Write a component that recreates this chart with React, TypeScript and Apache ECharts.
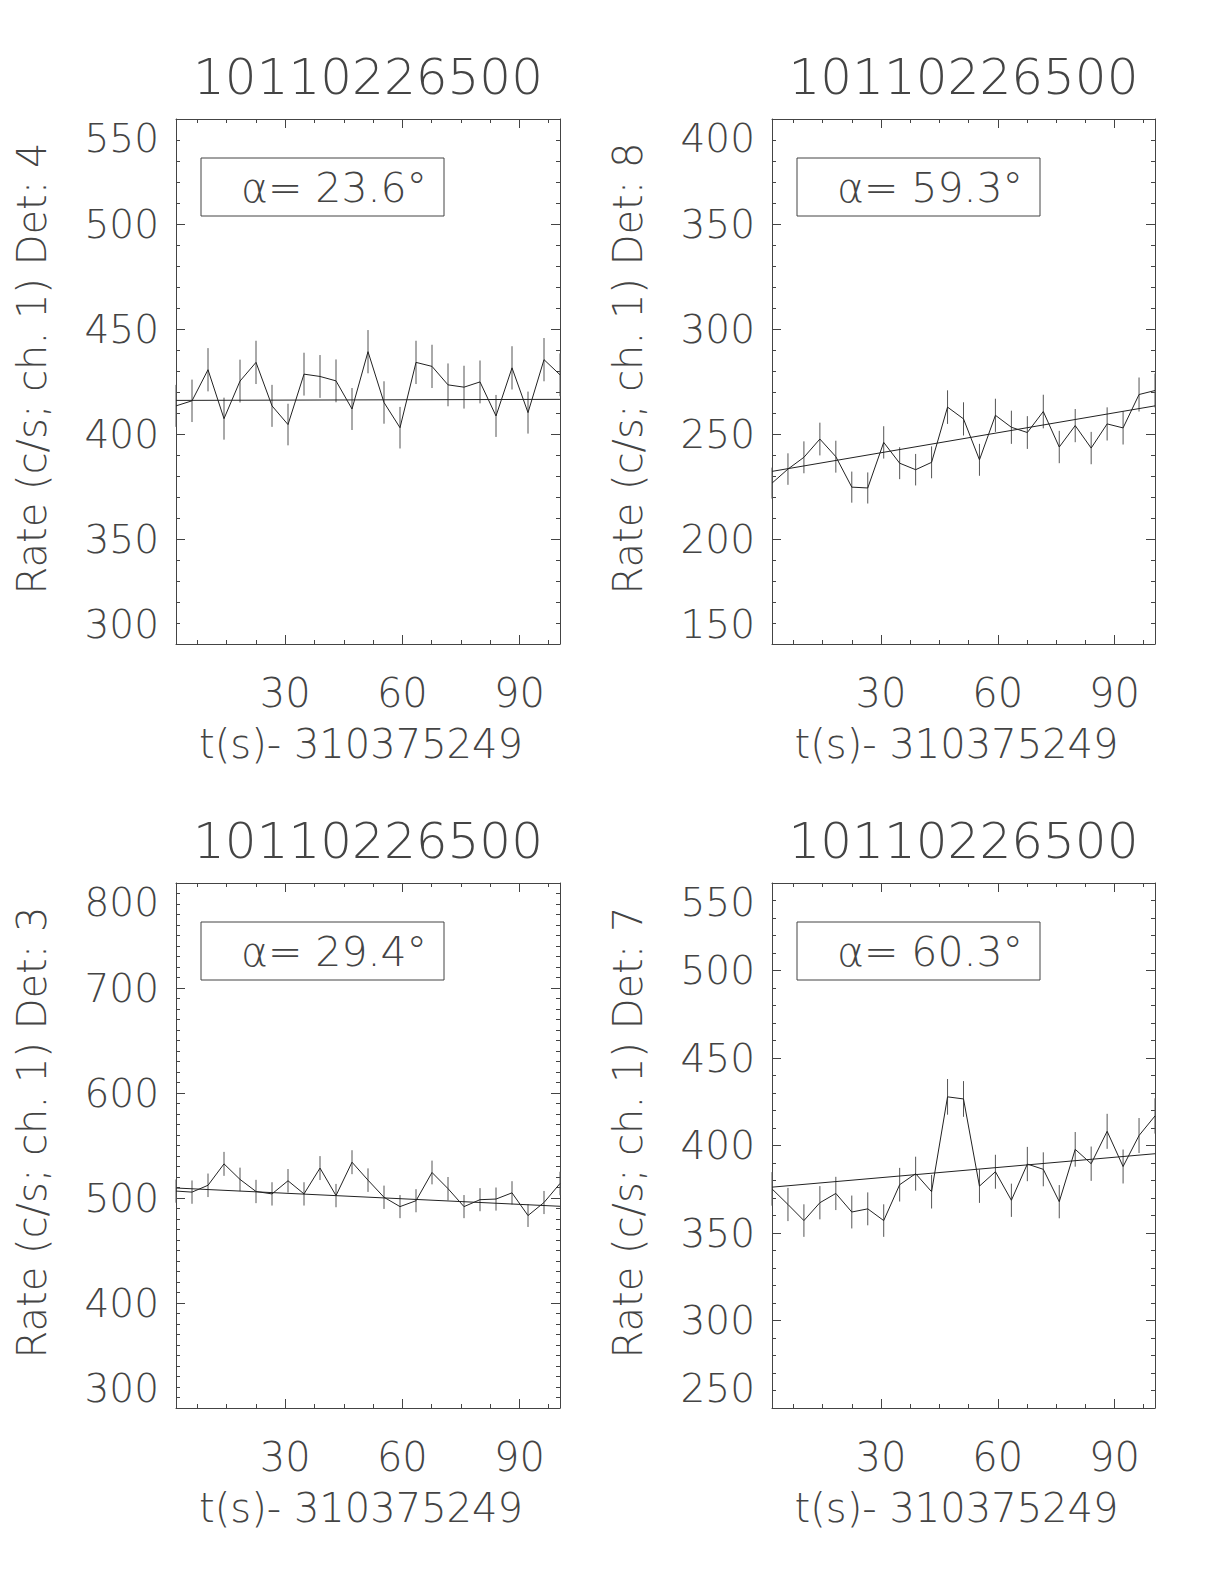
import React, { useEffect, useRef } from 'react';
import * as echarts from 'echarts';

const TITLE = '10110226500';
const X_NAME = 't(s)- 310375249';
const TIMES = [2.0, 6.1, 10.2, 14.3, 18.4, 22.5, 26.6, 30.7, 34.8, 38.9, 43.0, 47.1, 51.2, 55.3, 59.4, 63.5, 67.6, 71.7, 75.8, 79.9, 84.0, 88.1, 92.2, 96.3, 100.4];
const X_MIN = 2.0;
const X_MAX = 100.4;
const X_MAJOR = [30, 60, 90];
const X_MINOR = [7.5, 15, 22.5, 37.5, 45, 52.5, 67.5, 75, 82.5, 97.5];

const DETS = ['4', '8', '3', '7'];
const ANGLES = ['23.6', '59.3', '29.4', '60.3'];
const Y_MIN = [300, 150, 300, 250];
const Y_MAX = [550, 400, 800, 550];
const Y_STEP = [50, 50, 100, 50];
const Y_MINOR_SPLIT = [5, 5, 10, 5];

const RATE_DET4 = [413.4, 415.8, 430.6, 407.3, 425.2, 434.1, 413.4, 404.5, 428.5, 427.4, 425.3, 411.9, 439.2, 415.0, 403.0, 434.1, 432.2, 423.4, 422.3, 424.8, 408.6, 431.5, 410.2, 435.4, 428.2];
const ERR_DET4 = [10.0, 10.1, 10.3, 10.0, 10.2, 10.3, 10.0, 9.9, 10.2, 10.2, 10.2, 10.0, 10.3, 10.1, 9.9, 10.3, 10.3, 10.2, 10.2, 10.2, 10.0, 10.3, 10.0, 10.3, 10.2];
const FIT_DET4 = [416.0, 416.5];

const RATE_DET8 = [226.6, 233.3, 238.9, 247.6, 239.2, 224.7, 224.3, 246.0, 236.1, 233.0, 236.5, 262.8, 257.2, 237.7, 258.9, 253.2, 250.7, 260.7, 243.8, 254.0, 243.3, 254.8, 252.9, 268.8, 270.7];
const ERR_DET8 = [7.4, 7.5, 7.6, 7.8, 7.6, 7.4, 7.4, 7.7, 7.6, 7.5, 7.6, 8.0, 7.9, 7.6, 7.9, 7.9, 7.8, 8.0, 7.7, 7.9, 7.7, 7.9, 7.9, 8.1, 8.1];
const FIT_DET8 = [232.2, 263.4];

const RATE_DET3 = [506.6, 505.6, 512.1, 532.5, 517.7, 506.2, 503.9, 516.4, 503.9, 528.5, 502.3, 534.1, 517.0, 500.7, 491.8, 497.4, 524.3, 508.9, 491.8, 498.4, 499.0, 504.9, 483.3, 495.7, 513.8];
const ERR_DET3 = [11.1, 11.1, 11.2, 11.4, 11.2, 11.1, 11.1, 11.2, 11.1, 11.4, 11.1, 11.4, 11.2, 11.1, 11.0, 11.0, 11.3, 11.1, 11.0, 11.0, 11.0, 11.1, 10.9, 11.0, 11.2];
const FIT_DET3 = [509.5, 492.1];

const RATE_DET7 = [375.2, 366.3, 357.1, 367.3, 372.6, 362.0, 363.8, 357.1, 377.6, 383.9, 373.6, 427.8, 426.6, 376.8, 385.0, 368.7, 389.4, 386.4, 367.9, 397.8, 389.6, 408.1, 388.0, 405.7, 416.9];
const ERR_DET7 = [9.6, 9.5, 9.3, 9.5, 9.5, 9.4, 9.4, 9.3, 9.6, 9.7, 9.6, 10.2, 10.2, 9.6, 9.7, 9.5, 9.8, 9.7, 9.5, 9.9, 9.8, 10.0, 9.7, 10.0, 10.1];
const FIT_DET7 = [376.2, 395.3];

const RATES = [RATE_DET4, RATE_DET8, RATE_DET3, RATE_DET7];
const ERRS = [ERR_DET4, ERR_DET8, ERR_DET3, ERR_DET7];
const FITS = [FIT_DET4, FIT_DET8, FIT_DET3, FIT_DET7];

const GRIDS = [
  { left: 176, top: 119, width: 384, height: 525 },
  { left: 772, top: 119, width: 383, height: 525 },
  { left: 176, top: 883, width: 384, height: 525 },
  { left: 772, top: 883, width: 383, height: 525 },
];

const FONT = "'DejaVu Sans ExtraLight', 'DejaVu Sans', sans-serif";
const TXT = '#444';
const AX = '#444';
const LN = '#222';

function buildOption() {
  const xAxis: any[] = [];
  const yAxis: any[] = [];
  const series: any[] = [];
  const graphic: any[] = [];

  GRIDS.forEach((g, i) => {
    const common = {
      gridIndex: i,
      type: 'value',
      min: X_MIN,
      max: X_MAX,
      splitLine: { show: false },
    };
    xAxis.push({
      ...common,
      position: 'bottom',
      axisLine: { show: true, onZero: false, lineStyle: { color: AX, width: 1 } },
      axisTick: { show: true, inside: true, length: 9, customValues: X_MAJOR, lineStyle: { color: AX } },
      axisLabel: { show: true, customValues: X_MAJOR, fontSize: 40, fontFamily: FONT, fontWeight: 200, color: TXT, margin: 29 },
      name: X_NAME,
      nameLocation: 'middle',
      nameGap: 80,
      nameTextStyle: { fontSize: 40, fontFamily: FONT, fontWeight: 200, color: TXT, padding: [0, 14, 0, 0] },
    });
    xAxis.push({
      ...common,
      position: 'bottom',
      axisLine: { show: false, onZero: false },
      axisTick: { show: true, inside: true, length: 4, customValues: X_MINOR, lineStyle: { color: AX } },
      axisLabel: { show: false },
    });
    xAxis.push({
      ...common,
      position: 'top',
      axisLine: { show: true, onZero: false, lineStyle: { color: AX, width: 1 } },
      axisTick: { show: true, inside: true, length: 9, customValues: X_MAJOR, lineStyle: { color: AX } },
      axisLabel: { show: false },
    });
    xAxis.push({
      ...common,
      position: 'top',
      axisLine: { show: false, onZero: false },
      axisTick: { show: true, inside: true, length: 4, customValues: X_MINOR, lineStyle: { color: AX } },
      axisLabel: { show: false },
    });

    const ycommon = {
      gridIndex: i,
      type: 'value',
      min: Y_MIN[i],
      max: Y_MAX[i],
      interval: Y_STEP[i],
      splitLine: { show: false },
      minorTick: { show: true, splitNumber: Y_MINOR_SPLIT[i], length: 4, lineStyle: { color: AX } },
      minorSplitLine: { show: false },
    };
    yAxis.push({
      ...ycommon,
      position: 'left',
      axisLine: { show: true, onZero: false, lineStyle: { color: AX, width: 1 } },
      axisTick: { show: true, inside: true, length: 9, lineStyle: { color: AX } },
      axisLabel: {
        show: true, fontSize: 39, fontFamily: FONT, fontWeight: 200, color: TXT, margin: 17,
        showMinLabel: true, showMaxLabel: true,
        verticalAlignMinLabel: 'bottom', verticalAlignMaxLabel: 'top',
      },
      name: 'Rate (c/s; ch. 1) Det: ' + DETS[i],
      nameLocation: 'middle',
      nameRotate: 90,
      nameGap: 124,
      nameTextStyle: { fontSize: 40, fontFamily: FONT, fontWeight: 200, color: TXT, padding: [0, 0, 0, 26] },
    });
    yAxis.push({
      ...ycommon,
      position: 'right',
      axisLine: { show: true, onZero: false, lineStyle: { color: AX, width: 1 } },
      axisTick: { show: true, inside: true, length: 9, lineStyle: { color: AX } },
      axisLabel: { show: false },
    });

    const rates = RATES[i];
    const errs = ERRS[i];
    series.push({
      type: 'line',
      xAxisIndex: 4 * i,
      yAxisIndex: 2 * i,
      data: TIMES.map((t, k) => [t, rates[k]]),
      symbol: 'none',
      lineStyle: { color: LN, width: 1 },
      silent: true,
    });
    series.push({
      type: 'custom',
      xAxisIndex: 4 * i,
      yAxisIndex: 2 * i,
      data: TIMES.map((t, k) => [t, rates[k] - errs[k], rates[k] + errs[k]]),
      encode: { x: 0, y: [1, 2] },
      renderItem: (params: any, api: any) => {
        const x = api.value(0);
        const p1 = api.coord([x, api.value(1)]);
        const p2 = api.coord([x, api.value(2)]);
        return {
          type: 'line',
          shape: { x1: p1[0], y1: p1[1], x2: p2[0], y2: p2[1] },
          style: { stroke: '#555', lineWidth: 1 },
        };
      },
      silent: true,
    });
    series.push({
      type: 'line',
      xAxisIndex: 4 * i,
      yAxisIndex: 2 * i,
      data: [[X_MIN, FITS[i][0]], [X_MAX, FITS[i][1]]],
      symbol: 'none',
      lineStyle: { color: LN, width: 1 },
      silent: true,
    });

    graphic.push({
      type: 'text',
      x: g.left + g.width / 2,
      y: g.top - 42,
      style: {
        text: TITLE, fontSize: 50, fontFamily: FONT, fontWeight: 200, fill: TXT,
        align: 'center', verticalAlign: 'middle',
      },
      silent: true,
    });
    graphic.push({
      type: 'rect',
      shape: { x: g.left + 25, y: g.top + 39, width: 243, height: 58 },
      style: { fill: 'none', stroke: AX, lineWidth: 1 },
      silent: true,
    });
    graphic.push({
      type: 'text',
      x: g.left + 158,
      y: g.top + 39 + 30,
      style: {
        text: 'α= ' + ANGLES[i] + '°',
        fontSize: 41, fontFamily: FONT, fontWeight: 200, fill: TXT,
        align: 'center', verticalAlign: 'middle',
      },
      silent: true,
    });
  });

  return {
    animation: false,
    backgroundColor: '#ffffff',
    grid: GRIDS.map((g) => ({ left: g.left, top: g.top, width: g.width, height: g.height, containLabel: false })),
    xAxis,
    yAxis,
    series,
    graphic,
  };
}

export default function App() {
  const ref = useRef<HTMLDivElement>(null);
  useEffect(() => {
    document.body.style.margin = '0';
    if (!ref.current) return;
    const chart = echarts.init(ref.current, undefined, { renderer: 'svg' });
    chart.setOption(buildOption() as any);
    return () => {
      chart.dispose();
    };
  }, []);
  return <div ref={ref} style={{ width: 1224, height: 1584, background: '#fff' }} />;
}
